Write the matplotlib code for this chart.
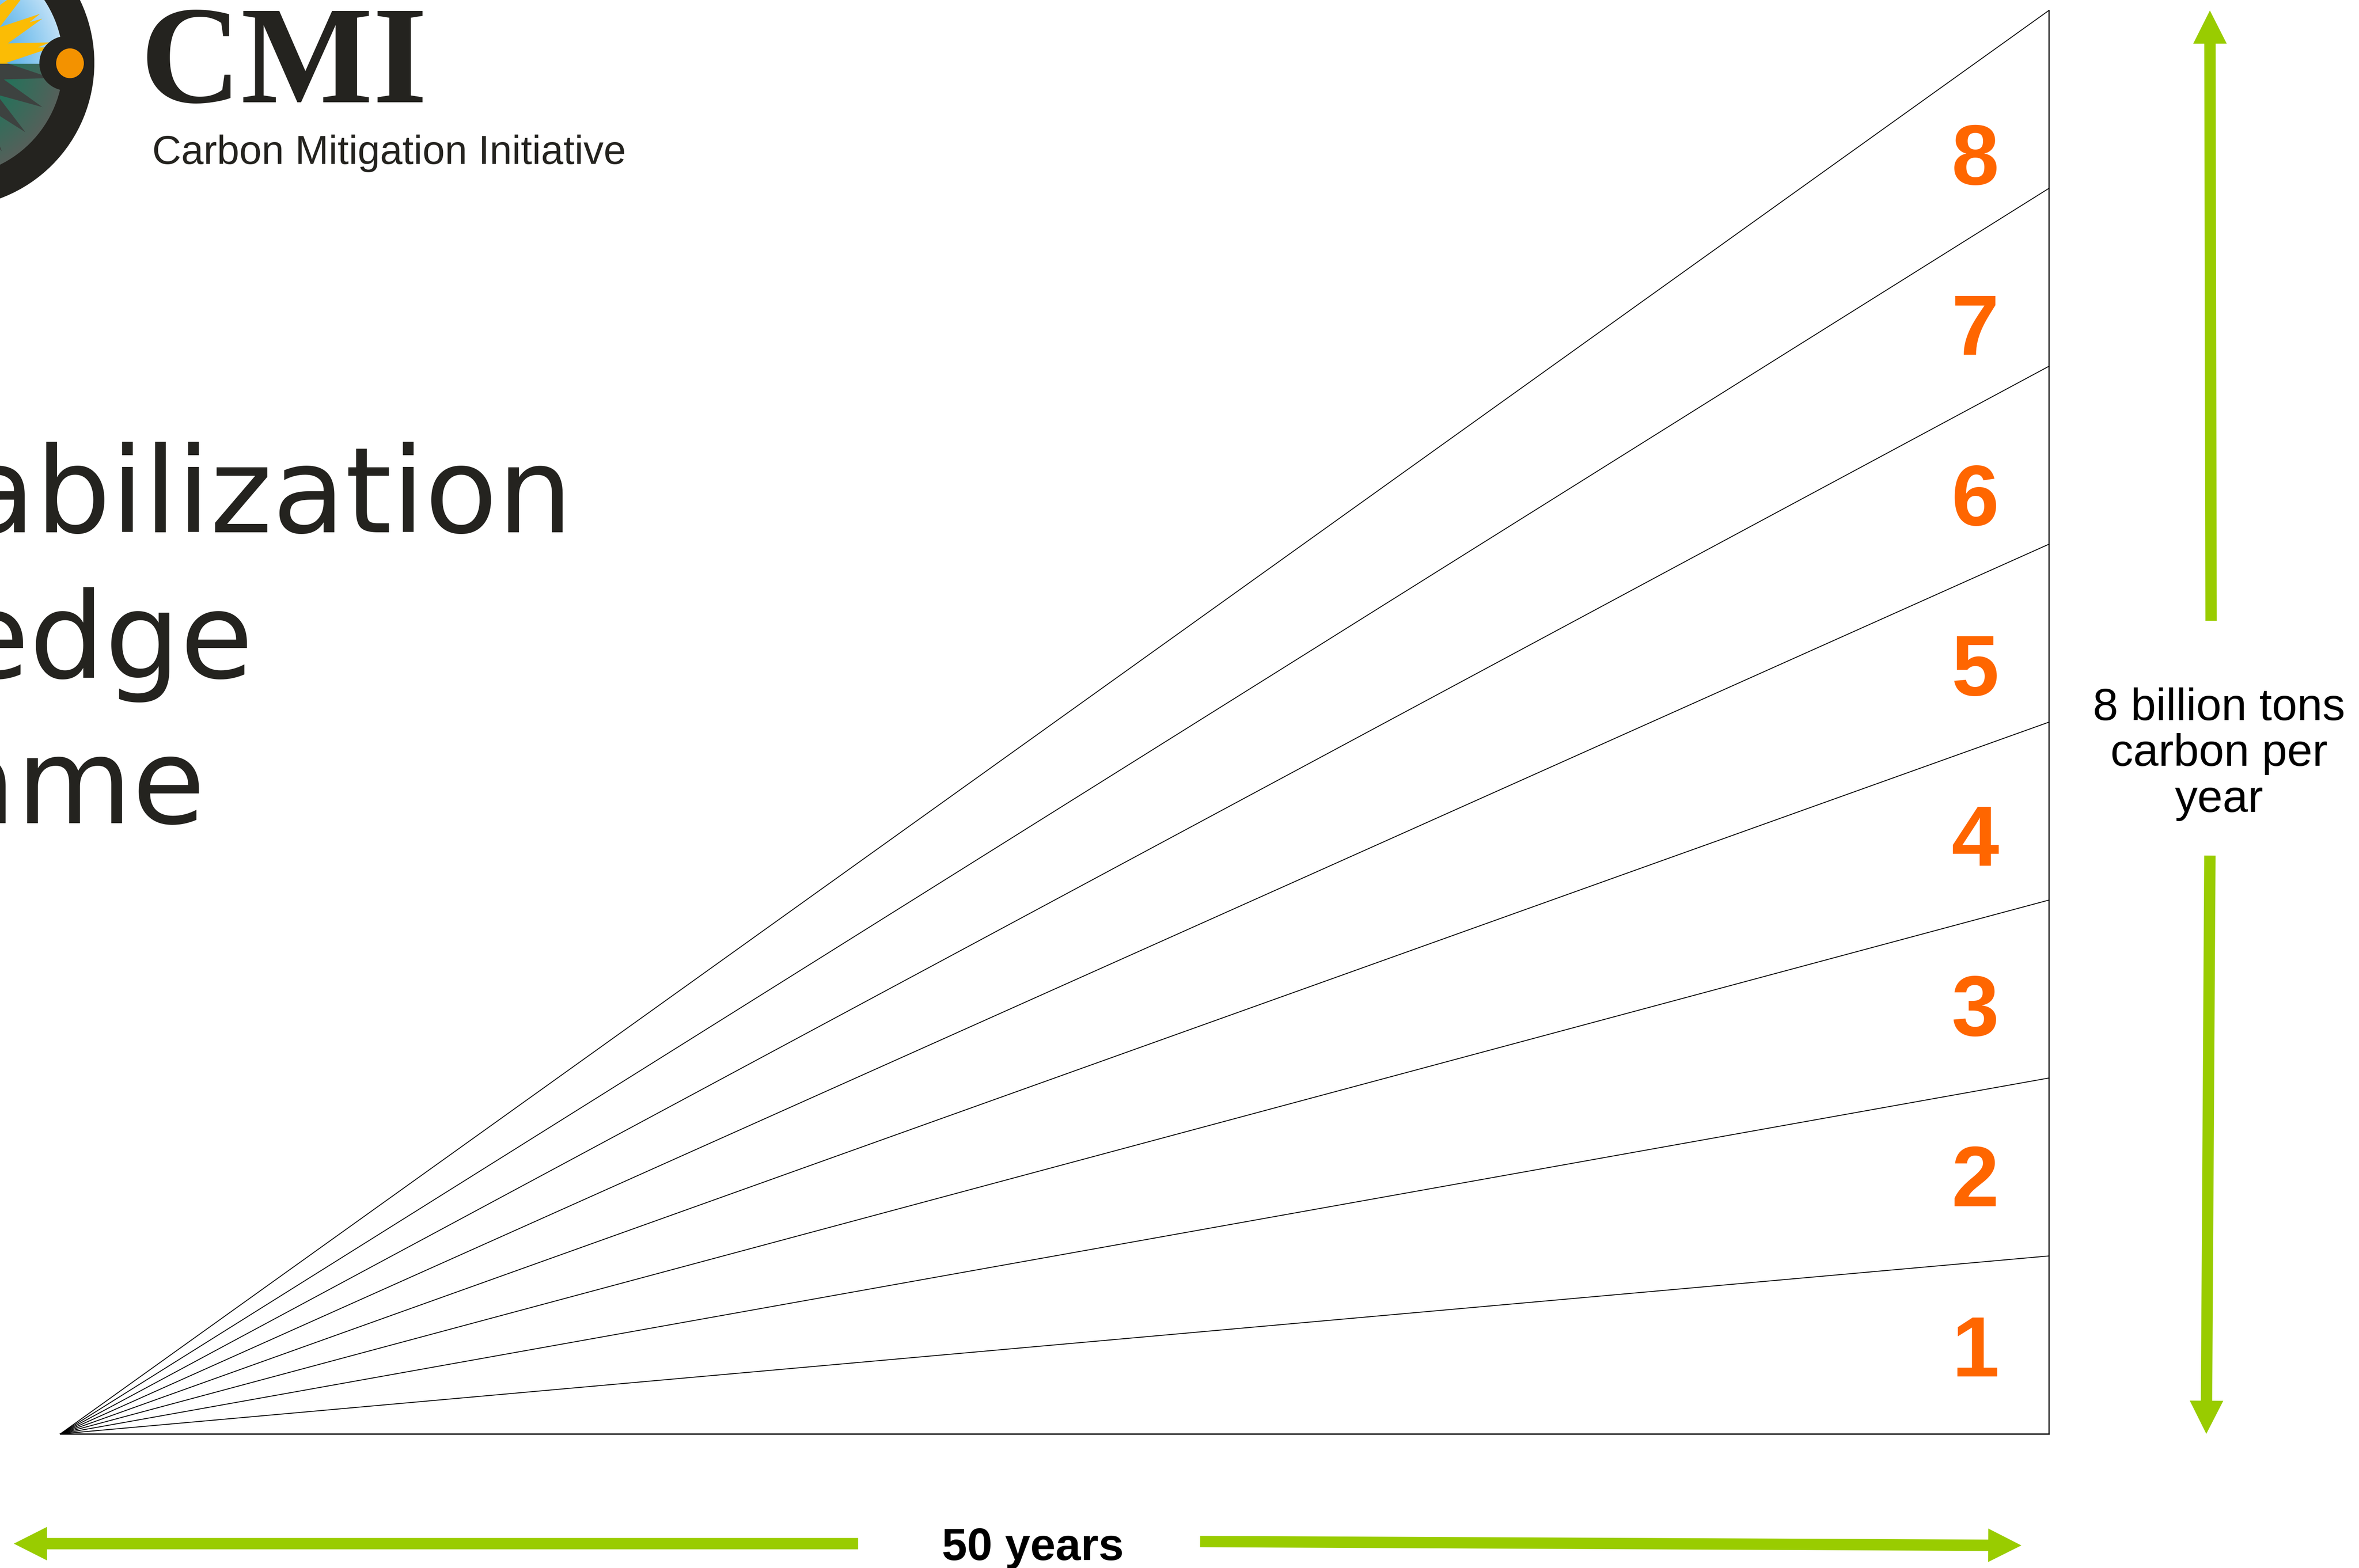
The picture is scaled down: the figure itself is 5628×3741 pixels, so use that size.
#!/usr/bin/python3
# coding=utf-8

import numpy as np
import matplotlib
matplotlib.use("Agg")
import matplotlib.pyplot as plt
from matplotlib.patches import Circle, Ellipse, Polygon, Rectangle, FancyArrowPatch

# stabilization triangle: each wedge grows from 0 to 1 GtC/yr over 50 years
YEARS = [0, 50]
WEDGE_TOPS = [1, 2, 3, 4, 5, 6, 7, 8]
WEDGE_LABELS = ["1", "2", "3", "4", "5", "6", "7", "8"]

TITLE_LINES = ["Stabilization", "Wedge", "Game"]
LOGO_TEXT = "CMI"
LOGO_SUBTITLE = "Carbon Mitigation Initiative"
Y_LABEL = "8 billion tons\ncarbon per\nyear"
X_LABEL = "50 years"

W, H = 5628, 3741
DPI = 300

GREEN = "#99cc00"
ORANGE = "#ff6600"
INK = "#24231f"


def px_box(x0, y0, x1, y1):
    """Figure-fraction rectangle from pixel corners (y measured from top)."""
    return [x0 / W, 1 - y1 / H, (x1 - x0) / W, (y1 - y0) / H]


def mix(c1, c2, t):
    c1 = np.array(matplotlib.colors.to_rgb(c1))
    c2 = np.array(matplotlib.colors.to_rgb(c2))
    t = np.clip(t, 0, 1)[..., None]
    return c1 * (1 - t) + c2 * t


def draw_logo(deco):
    """Partly cropped CMI logo in the top left corner (pixel coordinates)."""
    cx, cy, r_out, r_in, horizon = -120, 150, 343, 271, 152

    deco.add_patch(Circle((cx, cy), r_out, color=INK, zorder=1))

    # sky / land radial gradient
    n = 500
    xs = np.linspace(cx - r_in, cx + r_in, n)
    ys = np.linspace(cy - r_in, cy + r_in, n)
    gx, gy = np.meshgrid(xs, ys)
    rr = np.hypot(gx - cx, gy - cy) / r_in
    sky = mix("#2c9fe2", "#bfe0f7", rr ** 1.6)
    land = mix("#00805a", "#56605b", rr ** 1.3)
    img = np.where((gy < horizon)[..., None], sky, land)
    im = deco.imshow(img, extent=(cx - r_in, cx + r_in, cy + r_in, cy - r_in),
                     origin="upper", aspect="auto", zorder=2, interpolation="bilinear")
    im.set_clip_path(Circle((cx, cy), r_in, transform=deco.transData))

    # sun rays (yellow above the horizon, dark shadows below)
    tips = np.deg2rad(np.arange(8.5 - 17 * 11, 360, 17.0))
    pts = []
    for a in tips:
        pts.append((cx + 245 * np.cos(a), cy + 245 * np.sin(a)))
        b = a + np.deg2rad(8.5)
        pts.append((cx + 135 * np.cos(b), cy + 135 * np.sin(b)))
    up = Polygon(pts, closed=True, color="#fbbc05", zorder=3, lw=0)
    deco.add_patch(up)
    up.set_clip_path(Rectangle((cx - 400, cy - 400), 800, horizon - cy + 400,
                               transform=deco.transData))
    down = Polygon(pts, closed=True, color="#3d4240", zorder=3, lw=0)
    deco.add_patch(down)
    down.set_clip_path(Rectangle((cx - 400, horizon), 800, 400, transform=deco.transData))

    deco.add_patch(Circle((159, 151), 63, color=INK, zorder=4))
    deco.add_patch(Ellipse((167, 151), 62, 67, color="#f39200", zorder=5))

    deco.text(335, 244, LOGO_TEXT, ha="left", va="baseline", fontsize=80,
              family="Liberation Serif", fontweight="bold", color=INK)
    deco.text(363, 391, LOGO_SUBTITLE, ha="left", va="baseline", fontsize=23,
              family="Liberation Sans", color=INK)


def plot_wedges(fig_location: str = "out.png"):
    fig = plt.figure(figsize=(W / DPI, H / DPI), dpi=DPI)
    fig.patch.set_facecolor("white")

    # decoration layer in pixel coordinates
    deco = fig.add_axes([0, 0, 1, 1])
    draw_logo(deco)
    # title lines, cut off at the left edge like on the slide
    for line, x_right, y_base in zip(TITLE_LINES, [1367, 605, 490], [1270, 1617, 1964]):
        deco.text(x_right, y_base, line, ha="right", va="baseline", fontsize=68,
                  family="DejaVu Sans", color=INK)
    deco.set_xlim(0, W)
    deco.set_ylim(H, 0)
    deco.axis("off")

    # the triangle itself
    ax = fig.add_axes(px_box(144, 25, 4888, 3421))
    ax.set_xlim(YEARS[0], YEARS[-1])
    ax.set_ylim(0, max(WEDGE_TOPS))
    ax.axis("off")

    for top in WEDGE_TOPS:
        ax.plot(YEARS, [0, top], color="black", lw=0.5, clip_on=False)
    ax.plot(YEARS, [0, 0], color="black", lw=0.75, clip_on=False)
    ax.plot([YEARS[-1], YEARS[-1]], [0, max(WEDGE_TOPS)], color="black", lw=0.65, clip_on=False)

    for top, lab in zip(WEDGE_TOPS, WEDGE_LABELS):
        yc = top - 0.5 - 0.043 * (top - 1)
        ax.text(YEARS[-1] - 1.85, yc - 0.177, lab, ha="center", va="baseline",
                fontsize=49, fontweight="bold", family="Liberation Sans", color=ORANGE)

    style = "simple,head_length=19,head_width=19.2,tail_width=6.5"
    for a, b in [((20.06, -0.617), (-1.17, -0.617)),
                 ((28.66, -0.605), (49.31, -0.627)),
                 ((54.08, 4.57), (54.05, 8.0)),
                 ((54.05, 3.25), (53.96, 0.0))]:
        arr = FancyArrowPatch(a, b, arrowstyle=style, mutation_scale=1, color=GREEN,
                              lw=0, shrinkA=0, shrinkB=0, clip_on=False)
        ax.add_patch(arr)

    ax.text(54.28, 3.82, Y_LABEL, ha="center", va="center", fontsize=26,
            linespacing=1.12, family="Liberation Sans", color="black")
    ax.text(24.45, -0.709, X_LABEL, ha="center", va="baseline", fontsize=26,
            fontweight="bold", family="Liberation Sans", color="black")

    fig.savefig(fig_location, dpi=DPI, facecolor="white")
    plt.close(fig)


if __name__ == "__main__":
    plot_wedges("out.png")
